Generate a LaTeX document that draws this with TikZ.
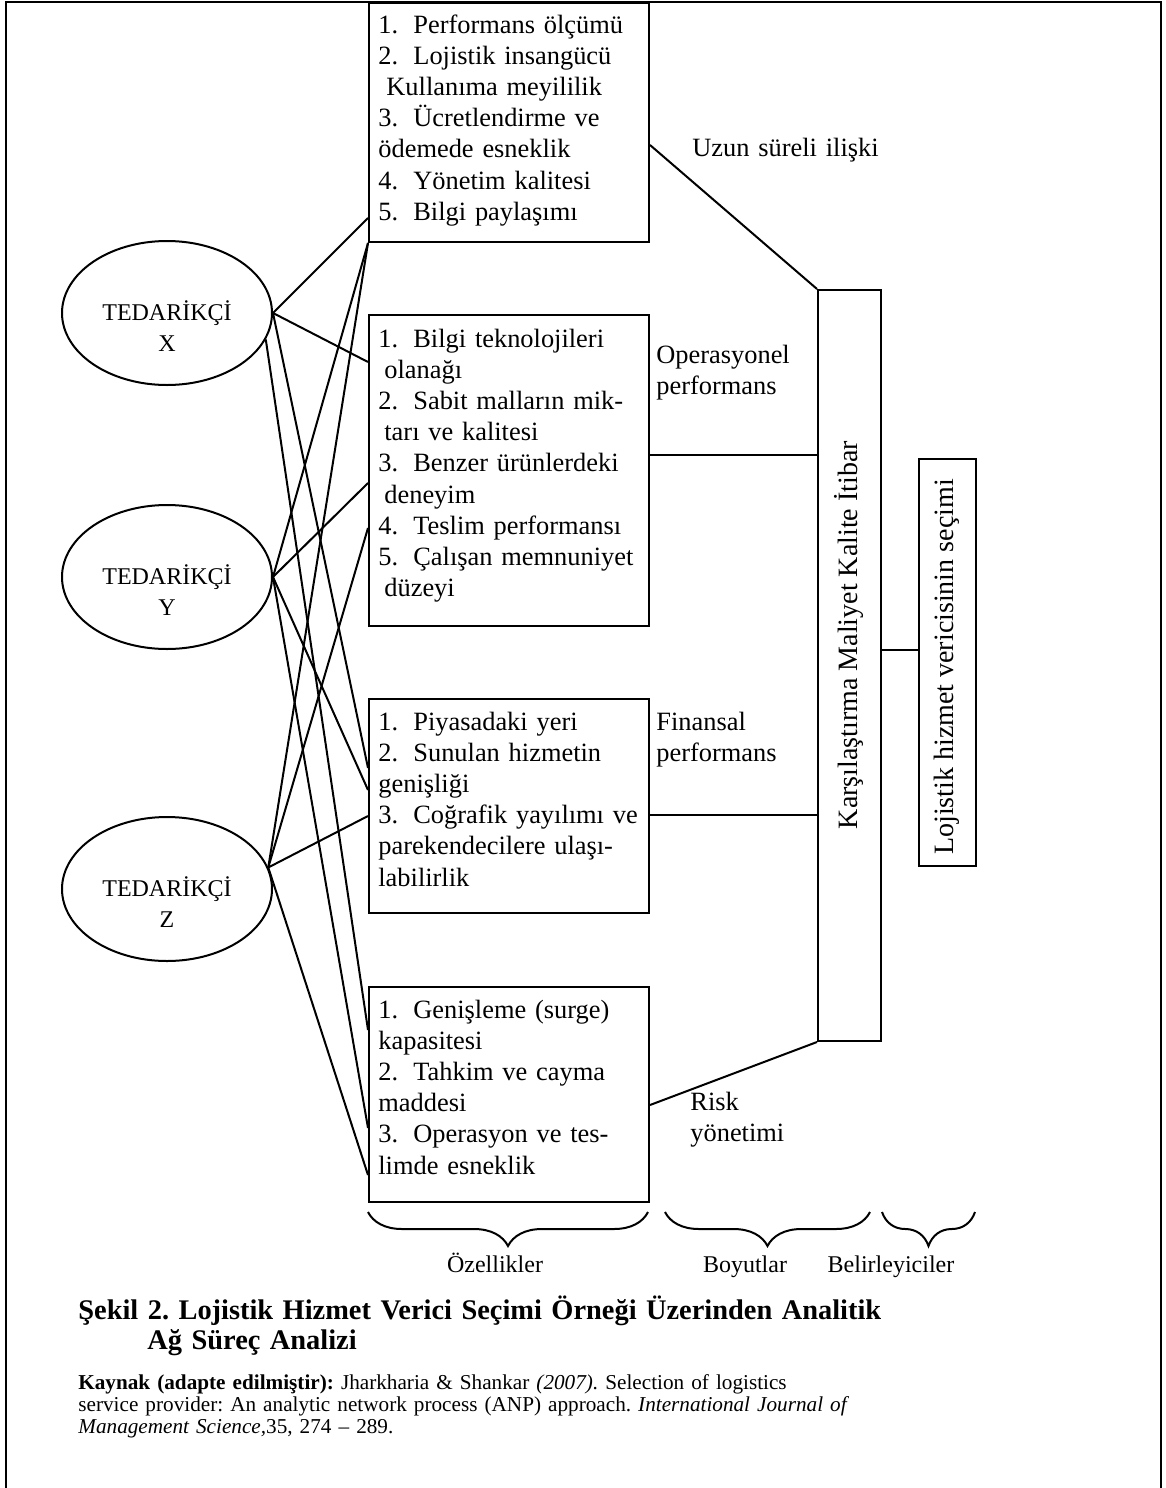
\documentclass[tikz,border=0pt]{standalone}
\usepackage{fontspec}
\setmainfont{Liberation Serif}
\usepackage{tikz}
\usetikzlibrary{positioning,calc,shapes.geometric,decorations.pathreplacing}

\newcommand{\madde}[1]{\makebox[17.5pt][l]{#1}}
\newcommand{\yazi}{\fontsize{13.2pt}{15.6pt}\selectfont}
\newcommand{\kucukyazi}{\fontsize{12pt}{15.6pt}\selectfont}
\frenchspacing

\begin{document}
\begin{tikzpicture}[x=0.5pt, y=-0.5pt,
    cizgi/.style={line width=1pt},
    kutu/.style={draw, line width=1pt, anchor=north west, inner sep=0pt, minimum width=140pt},
    tedarikci/.style={draw, line width=1pt, ellipse, minimum width=105pt, minimum height=72pt, inner sep=0pt},
    liste/.style={anchor=base west, inner sep=0pt, text width=140pt, align=left, font=\yazi},
    etiket/.style={anchor=base west, inner sep=0pt, text width=100pt, align=left, font=\yazi},
    dikyazi/.style={rotate=90, font=\fontsize{14pt}{15pt}\selectfont},
    kume/.style={line width=1pt, decorate, decoration={brace, amplitude=17pt}},
]
\useasboundingbox (0,0) rectangle (1166,1488);

% cerceve
\draw[cizgi] (6,1495) -- (6,2) -- (1161,2) -- (1161,1495);

% tedarikciler
\node[tedarikci] (X) at (167,313) {};
\node[tedarikci] (Y) at (167,577) {};
\node[tedarikci] (Z) at (167,889) {};
\node[align=center, font=\kucukyazi] (Xyazi) at (167,326) {TEDARİKÇİ\\X};
\node[align=center, font=\kucukyazi] (Yyazi) at (167,590) {TEDARİKÇİ\\Y};
\node[align=center, font=\kucukyazi] (Zyazi) at (167,902) {TEDARİKÇİ\\Z};

% ozellik kutulari
\node[kutu, minimum height=119.5pt] (b1) at (368,2) {};
\node[kutu, minimum height=155.5pt] (b2) at (368,314) {};
\node[kutu, minimum height=107pt] (b3) at (368,698) {};
\node[kutu, minimum height=107.5pt] (b4) at (368,986) {};

\node[liste] (b1yazi) at (378,33) {\madde{1.}Performans ölçümü\\
\madde{2.}Lojistik insangücü\\
\hspace*{4pt}Kullanıma meyililik\\
\madde{3.}Ücretlendirme ve\\
ödemede esneklik\\
\madde{4.}Yönetim kalitesi\\
\madde{5.}Bilgi paylaşımı};

\node[liste] (b2yazi) at (378,347) {\madde{1.}Bilgi teknolojileri\\
\hspace*{3pt}olanağı\\
\madde{2.}Sabit malların mik-\\
\hspace*{3pt}tarı ve kalitesi\\
\madde{3.}Benzer ürünlerdeki\\
\hspace*{3pt}deneyim\\
\madde{4.}Teslim performansı\\
\madde{5.}Çalışan memnuniyet\\
\hspace*{3pt}düzeyi};

\node[liste] (b3yazi) at (378,730) {\madde{1.}Piyasadaki yeri\\
\madde{2.}Sunulan hizmetin\\
genişliği\\
\madde{3.}Coğrafik yayılımı ve\\
parekendecilere ulaşı-\\
labilirlik};

\node[liste] (b4yazi) at (378,1018) {\madde{1.}Genişleme (surge)\\
kapasitesi\\
\madde{2.}Tahkim ve cayma\\
maddesi\\
\madde{3.}Operasyon ve tes-\\
limde esneklik};

% belirleyici kutulari
\node[kutu, minimum width=31.5pt, minimum height=375.5pt] (kar) at (817,289) {};
\node[kutu, minimum width=28.5pt, minimum height=203.5pt] (loj) at (918,458) {};
\node[dikyazi] (karyazi) at (849,635) {Karşılaştırma Maliyet Kalite İtibar};
\node[dikyazi] (lojyazi) at (947,667) {Lojistik hizmet vericisinin seçimi};

% boyut etiketleri
\node[etiket] (uzun) at (692,156) {Uzun süreli ilişki};
\node[etiket] (opr) at (656,363) {Operasyonel\\performans};
\node[etiket] (fin) at (656,730) {Finansal\\performans};
\node[etiket] (risk) at (690,1110) {Risk\\yönetimi};

% kutularin sol kenarindaki uclar
\foreach \ad/\y in {b1x/218, b2x/362, b2y/483, b2z/528, b3x/768, b3y/790, b3z/816,
    b4x/1030, b4y/1128, b4z/1175}
    \coordinate (\ad) at (368,\y);

% tedarikci -> ozellik baglantilari
\foreach \s/\t in {X.east/b1x, X.east/b2x, X.east/b3x, X.-15/b4x,
    Y.east/b1.south west, Y.east/b2y, Y.east/b3y, Y.east/b4y,
    Z.12/b1.south west, Z.12/b2z, Z.12/b3z, Z.12/b4z}
    \draw[cizgi] (\s) -- (\t);

% boyutlar -> belirleyiciler
\draw[cizgi] (b1.east |- 0,145) -- (kar.north west);
\draw[cizgi] (b2.east |- 0,455) -- (kar.west |- 0,455);
\draw[cizgi] (b3.east |- 0,815) -- (kar.west |- 0,815);
\draw[cizgi] (b4.east |- 0,1105) -- (kar.south west);
\draw[cizgi] (kar.east |- 0,650) -- (loj.west |- 0,650);

% kume parantezleri
\draw[kume] (648,1212) -- (368,1212);
\draw[kume] (870,1212) -- (665,1212);
\draw[kume] (975,1212) -- (882,1212);
\node[font=\kucukyazi, anchor=base] (ozl) at (495,1272) {Özellikler};
\node[font=\kucukyazi, anchor=base] (boy) at (745,1272) {Boyutlar};
\node[font=\kucukyazi, anchor=base] (bel) at (891,1272) {Belirleyiciler};

% sekil basligi ve kaynak
\node[anchor=base west, inner sep=0pt, text width=470pt, align=left,
    font=\fontsize{14.2pt}{15pt}\selectfont\bfseries] (baslik) at (78,1319)
    {Şekil 2. Lojistik Hizmet Verici Seçimi Örneği Üzerinden Analitik\\
    \hspace*{34.5pt}Ağ Süreç Analizi};
\node[anchor=base west, inner sep=0pt, text width=470pt, align=left,
    font=\fontsize{10.6pt}{11pt}\selectfont] (kaynak) at (78,1389)
    {\textbf{Kaynak (adapte edilmiştir):} Jharkharia \& Shankar \textit{(2007).} Selection of logistics\\
    service provider: An analytic network process (ANP) approach. \textit{International Journal of}\\
    \textit{Management Science,}35, 274 – 289.};
\end{tikzpicture}
\end{document}
